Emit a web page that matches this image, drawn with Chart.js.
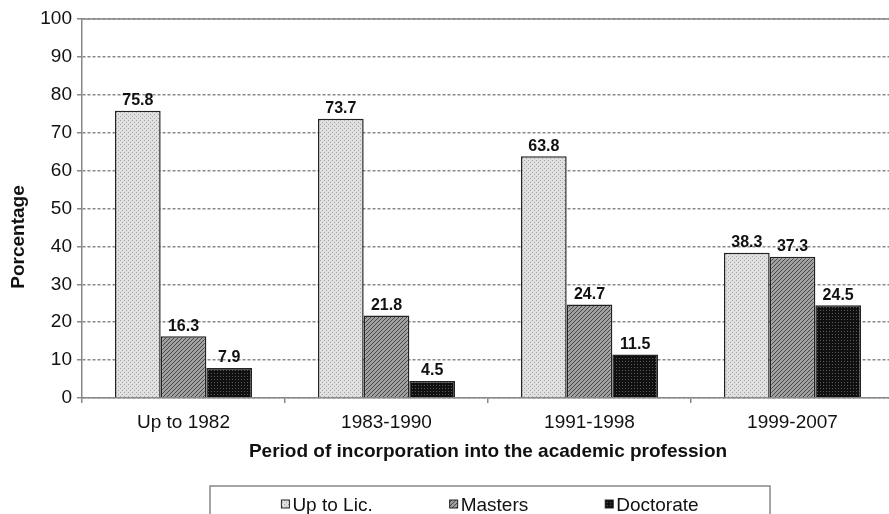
<!DOCTYPE html>
<html lang="en">
<head>
    <meta charset="UTF-8">
    <title>Period of incorporation into the academic profession</title>
    <script src="https://cdn.jsdelivr.net/npm/chart.js"></script>
    <style>
        html, body {
            margin: 0;
            padding: 0;
            background: #fff;
            overflow: hidden;
        }
        /* the plot runs a few pixels past the right edge in the reference */
        #wrap {
            width: 889px;
            height: 514px;
            overflow: hidden;
        }
    </style>
</head>
<body>
    <div id="wrap">
        <canvas id="chart" width="894" height="514"></canvas>
    </div>

    <script>
        // Data
        const categories = ['Up to 1982', '1983-1990', '1991-1998', '1999-2007'];
        const seriesNames = ['Up to Lic.', 'Masters', 'Doctorate'];
        const upToLic = [75.8, 73.7, 63.8, 38.3];
        const masters = [16.3, 21.8, 24.7, 37.3];
        const doctorate = [7.9, 4.5, 11.5, 24.5];
        const yMin = 0;
        const yMax = 100;
        const yStep = 10;

        const FONT = "'Liberation Sans', Arial, sans-serif";
        const ctx = document.getElementById('chart').getContext('2d');

        // Small tiles used as fill patterns (like the printed hatching)
        function makePattern(size, bg, fg, pixels) {
            const c = document.createElement('canvas');
            c.width = size;
            c.height = size;
            const g = c.getContext('2d');
            g.fillStyle = bg;
            g.fillRect(0, 0, size, size);
            g.fillStyle = fg;
            pixels.forEach(p => g.fillRect(p[0], p[1], 1, 1));
            return ctx.createPattern(c, 'repeat');
        }

        const dotted = makePattern(4, '#e0e0e0', '#a4a4a4', [[0, 0], [2, 2]]);
        const hatched = makePattern(4, '#a0a0a0', '#484848', [[0, 3], [1, 2], [2, 1], [3, 0]]);
        const darkDots = makePattern(3, '#101010', '#5a5a5a', [[1, 1]]);

        // Value labels above each bar
        const valueLabels = {
            id: 'valueLabels',
            afterDatasetsDraw(chart) {
                const c = chart.ctx;
                c.save();
                c.font = "bold 16px " + FONT;
                c.fillStyle = '#111';
                c.textAlign = 'center';
                c.textBaseline = 'bottom';
                chart.data.datasets.forEach((ds, i) => {
                    chart.getDatasetMeta(i).data.forEach((bar, j) => {
                        c.fillText(ds.data[j].toFixed(1), bar.x, bar.y - 2);
                    });
                });
                c.restore();
            }
        };

        // Solid top frame line, y title and boxed legend
        const frame = {
            id: 'frame',
            afterDraw(chart) {
                const c = chart.ctx;
                const a = chart.chartArea;
                c.save();
                c.strokeStyle = '#888';
                c.lineWidth = 1.5;
                c.beginPath();
                c.moveTo(a.left, a.top);
                c.lineTo(a.right, a.top);
                c.stroke();

                // y axis title
                c.translate(19, 237);
                c.rotate(-Math.PI / 2);
                c.font = "bold 19px " + FONT;
                c.fillStyle = '#111';
                c.textAlign = 'center';
                c.textBaseline = 'middle';
                c.fillText('Porcentage', 0, 0);
                c.setTransform(1, 0, 0, 1, 0, 0);

                // legend
                const centerX = 490;
                const gap = 77;
                const sw = 8;
                const rowY = 505;
                c.font = "19px " + FONT;
                const widths = chart.data.datasets.map(ds => sw + 3 + c.measureText(ds.label).width);
                const total = widths.reduce((s, w) => s + w, 0) + gap * (widths.length - 1);
                c.strokeStyle = '#888';
                c.lineWidth = 1.5;
                c.strokeRect(210, 486, 560, 40);
                let x = centerX - total / 2;
                chart.data.datasets.forEach((ds, i) => {
                    c.fillStyle = ds.backgroundColor;
                    c.fillRect(x, rowY - 5, sw, sw);
                    c.strokeStyle = '#222';
                    c.lineWidth = 1;
                    c.strokeRect(x, rowY - 5, sw, sw);
                    c.fillStyle = '#111';
                    c.textAlign = 'left';
                    c.textBaseline = 'middle';
                    c.fillText(ds.label, x + sw + 3, rowY + 1);
                    x += widths[i] + gap;
                });
                c.restore();
            }
        };

        const barStyle = {
            borderColor: '#222',
            borderWidth: 1.5,
            barPercentage: 1.0,
            categoryPercentage: 0.675
        };

        new Chart(ctx, {
            type: 'bar',
            data: {
                labels: categories,
                datasets: [
                    Object.assign({ label: seriesNames[0], data: upToLic, backgroundColor: dotted }, barStyle),
                    Object.assign({ label: seriesNames[1], data: masters, backgroundColor: hatched }, barStyle),
                    Object.assign({ label: seriesNames[2], data: doctorate, backgroundColor: darkDots }, barStyle)
                ]
            },
            options: {
                responsive: false,
                animation: false,
                layout: {
                    padding: { top: 19, bottom: 36, left: 0, right: 0 }
                },
                plugins: {
                    legend: { display: false },
                    tooltip: { enabled: false }
                },
                scales: {
                    x: {
                        grid: {
                            offset: true,
                            drawOnChartArea: false,
                            drawTicks: true,
                            tickLength: 5,
                            color: '#888',
                            lineWidth: 1.5
                        },
                        border: { color: '#888', width: 1.5 },
                        ticks: {
                            color: '#111',
                            padding: 8,
                            font: { family: FONT, size: 19 }
                        },
                        title: {
                            display: true,
                            text: 'Period of incorporation into the academic profession',
                            color: '#111',
                            padding: { top: 0, bottom: 15 },
                            font: { family: FONT, size: 19, weight: 'bold' }
                        },
                        afterFit(scale) {
                            scale.height = 80;
                        }
                    },
                    y: {
                        min: yMin,
                        max: yMax,
                        ticks: {
                            stepSize: yStep,
                            color: '#111',
                            padding: 5,
                            font: { family: FONT, size: 19 }
                        },
                        grid: {
                            color: '#888',
                            lineWidth: 1.5,
                            tickLength: 5
                        },
                        border: { color: '#888', width: 1.5, dash: [3, 2] },
                        afterFit(scale) {
                            scale.width = 82;
                        }
                    }
                }
            },
            plugins: [valueLabels, frame]
        });
    </script>
</body>
</html>
